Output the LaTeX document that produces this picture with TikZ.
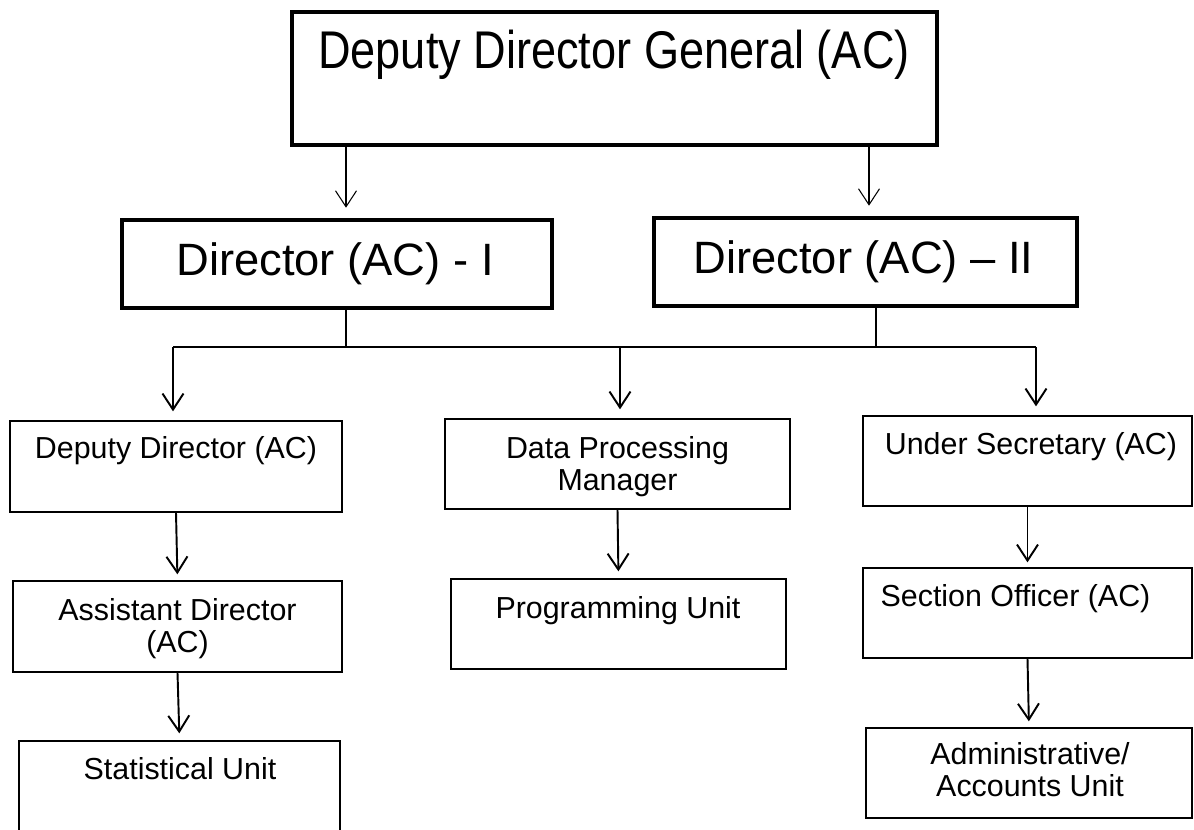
\documentclass[tikz,border=0pt]{standalone}
\usepackage{fontspec}
\setmainfont{Liberation Sans}
\newfontfamily\narrowsans[FakeStretch=0.85]{Liberation Sans}
\usetikzlibrary{arrows.meta}

\begin{document}
\begin{tikzpicture}[x=0.02cm,y=-0.02cm,
    bigbox/.style={draw,line width=2.6pt},
    smallbox/.style={draw,line width=0.8pt},
    headtxt/.style={anchor=north,font=\narrowsans\fontsize{30.2}{34}\selectfont},
    bigtxt/.style={anchor=north,font=\fontsize{25.8}{30}\selectfont},
    smalltxt/.style={anchor=north,align=center,font=\fontsize{17.3}{18.5}\selectfont},
    thinarr/.style={line width=0.6pt,-{Straight Barb[length=0.32cm,width=0.42cm]},shorten >=0.2cm},
    arr/.style={line width=1.1pt,-{Straight Barb[length=0.32cm,width=0.42cm]}},
    link/.style={line width=0.8pt}]
      \tikzstyle{every node}+=[inner sep=0pt]
      \clip (0,0) rectangle (1194,829);
      \node[bigbox,minimum width=12.9cm,minimum height=2.66cm] (ddg) at (614.5,78.5) {};
      \node[bigbox,minimum width=8.6cm,minimum height=1.76cm] (dir1) at (337,264) {};
      \node[bigbox,minimum width=8.46cm,minimum height=1.76cm] (dir2) at (865.5,262) {};
      \node[smallbox,minimum width=6.64cm,minimum height=1.82cm] (dep) at (176,466.5) {};
      \node[smallbox,minimum width=6.58cm,minimum height=1.82cm] (asst) at (177.5,626.5) {};
      \node[smallbox,minimum width=6.42cm,minimum height=2.38cm] (stat) at (179.5,800.5) {};
      \node[smallbox,minimum width=6.9cm,minimum height=1.8cm] (dpm) at (617.5,464) {};
      \node[smallbox,minimum width=6.7cm,minimum height=1.8cm] (prog) at (618.5,624) {};
      \node[smallbox,minimum width=6.58cm,minimum height=1.8cm] (usec) at (1027.5,461) {};
      \node[smallbox,minimum width=6.58cm,minimum height=1.8cm] (sec) at (1027.5,613) {};
      \node[smallbox,minimum width=6.52cm,minimum height=1.8cm] (adm) at (1029,773) {};
      \node[headtxt] (ddgTxt) at (614,30) {Deputy Director General (AC)};
      \node[bigtxt] (dir1Txt) at (335,242) {Director (AC) - I};
      \node[bigtxt] (dir2Txt) at (863.5,240) {Director (AC) – II};
      \node[smalltxt] (depTxt) at (176,436) {Deputy Director (AC)};
      \node[smalltxt] (asstTxt) at (177.5,598) {Assistant Director\\(AC)};
      \node[smalltxt] (statTxt) at (180,757) {Statistical Unit};
      \node[smalltxt] (dpmTxt) at (617.5,436) {Data Processing\\Manager};
      \node[smalltxt] (progTxt) at (618,596) {Programming Unit};
      \node[smalltxt] (usecTxt) at (1031,432) {Under Secretary (AC)};
      \node[smalltxt] (secTxt) at (1015.5,584) {Section Officer (AC)};
      \node[smalltxt] (admTxt) at (1030,742) {Administrative/\\Accounts Unit};
      \coordinate (t1) at (346,0);
      \coordinate (t2) at (869,0);
      \coordinate (j1) at (346,347);
      \coordinate (j2) at (876,347);
      \coordinate (jl) at (173,347);
      \coordinate (jm) at (620,347);
      \coordinate (jr) at (1036,347);
      \draw[thinarr] (ddg.south -| t1) -- (dir1.north -| t1);
      \draw[thinarr] (ddg.south -| t2) -- (dir2.north -| t2);
      \draw[link] (dir1.south -| j1) -- (j1);
      \draw[link] (dir2.south -| j2) -- (j2);
      \draw[arr,-] (jl) -- (jr);
      \draw[arr,shorten >=0.18cm] (jl) -- (dep.north -| jl);
      \draw[arr,shorten >=0.18cm] (jm) -- (dpm.north -| jm);
      \draw[arr,shorten >=0.18cm] (jr) -- (usec.north -| jr);
      \draw[arr,shorten >=0.12cm] (dep.south) -- (asst.north);
      \draw[arr,shorten >=0.14cm] (asst.south) -- (stat.north);
      \draw[arr,shorten >=0.14cm] (dpm.south) -- (prog.north);
      \draw[arr,shorten >=0.1cm] (usec.south) -- (sec.north);
      \draw[arr,shorten >=0.12cm] (sec.south) -- (adm.north);
    \end{tikzpicture}
\end{document}
